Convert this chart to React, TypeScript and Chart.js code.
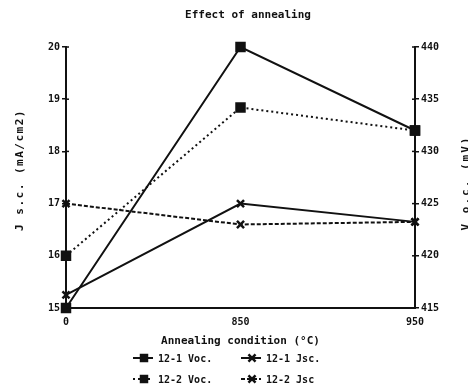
import React, { useEffect, useRef } from 'react';
import { Chart, registerables } from 'chart.js';
Chart.register(...registerables);

const annealLabels = ['0', '850', '950'];
const voc121 = [415, 440, 432];
const jsc121 = [15.25, 17.0, 16.65];
const voc122 = [420, 434.2, 432];
const jsc122 = [17.0, 16.6, 16.65];
const seriesNames = ['12-1 Voc.', '12-1 Jsc.', '12-2 Voc.', '12-2 Jsc'];
const chartTitle = 'Effect of annealing';
const xTitle = 'Annealing condition (\u00B0C)';
const leftTitle = 'J s.c. (mA/cm2)';
const rightTitle = 'V o.c. (mV)';

const INK = '#111111';
const FONT = "'DejaVu Sans Mono', 'Liberation Mono', monospace";

function drawMarker(ctx: CanvasRenderingContext2D, style: string, x: number, y: number, r: number) {
  ctx.beginPath();
  if (style === 'rect') {
    const s = r * Math.SQRT1_2;
    ctx.fillRect(x - s, y - s, 2 * s, 2 * s);
  } else {
    const s = r * Math.SQRT1_2;
    ctx.moveTo(x - s, y - s); ctx.lineTo(x + s, y + s);
    ctx.moveTo(x - s, y + s); ctx.lineTo(x + s, y - s);
    ctx.stroke();
  }
}

function rotatedText(ctx: CanvasRenderingContext2D, text: string, x: number, y: number, spacing: string) {
  ctx.save();
  ctx.translate(x, y);
  ctx.rotate(-Math.PI / 2);
  ctx.textAlign = 'center';
  ctx.textBaseline = 'middle';
  (ctx as any).letterSpacing = spacing;
  ctx.font = `bold 11px ${FONT}`;
  ctx.fillText(text, 0, 0);
  ctx.restore();
}

const extras = {
  id: 'extras',
  afterDraw(chart: any) {
    const ctx: CanvasRenderingContext2D = chart.ctx;
    ctx.save();
    ctx.strokeStyle = INK;
    ctx.fillStyle = INK;
    ctx.lineWidth = 1.5;
    const yl = chart.scales.y;
    const yr = chart.scales.y2;
    yl.ticks.forEach((t: any) => {
      const py = yl.getPixelForValue(t.value);
      ctx.beginPath(); ctx.moveTo(yl.right, py); ctx.lineTo(yl.right + 3, py); ctx.stroke();
    });
    yr.ticks.forEach((t: any) => {
      const py = yr.getPixelForValue(t.value);
      ctx.beginPath(); ctx.moveTo(yr.left - 3, py); ctx.lineTo(yr.left, py); ctx.stroke();
    });
    // title
    ctx.font = `bold 11px ${FONT}`;
    ctx.textAlign = 'center';
    ctx.textBaseline = 'middle';
    ctx.fillText(chartTitle, 248, 15);
    // legend
    const slots = [[133, 358], [241, 358], [133, 379], [241, 379]];
    ctx.font = `bold 10px ${FONT}`;
    ctx.textAlign = 'left';
    chart.data.datasets.forEach((ds: any, i: number) => {
      const [x, y] = slots[i];
      ctx.save();
      ctx.lineWidth = 2;
      ctx.setLineDash(ds.borderDash || []);
      ctx.beginPath(); ctx.moveTo(x, y); ctx.lineTo(x + 20, y); ctx.stroke();
      ctx.restore();
      ctx.lineWidth = 2.5;
      drawMarker(ctx, ds.pointStyle, x + 11, y, ds.pointRadius);
      ctx.fillText(ds.label, x + 25, y + 1);
    });
    // axis titles
    rotatedText(ctx, leftTitle, 20, 170, '1.5px');
    rotatedText(ctx, rightTitle, 466, 183, '2px');
    ctx.restore();
  },
};

export default function App() {
  const ref = useRef<HTMLCanvasElement | null>(null);
  useEffect(() => {
    if (!ref.current) return;
    Chart.defaults.font.family = FONT;
    Chart.defaults.font.weight = 'bold' as any;
    Chart.defaults.color = INK;
    const chart = new Chart(ref.current, {
      type: 'line',
      data: {
        labels: annealLabels,
        datasets: [
          { label: seriesNames[0], data: voc121, yAxisID: 'y2', borderColor: INK, backgroundColor: INK, borderWidth: 2, pointStyle: 'rect', pointRadius: 6, pointBackgroundColor: INK, pointBorderColor: INK, clip: false as any },
          { label: seriesNames[1], data: jsc121, yAxisID: 'y', borderColor: INK, backgroundColor: INK, borderWidth: 2, pointStyle: 'crossRot', pointRadius: 5, pointBorderWidth: 2.5, pointBorderColor: INK, clip: false as any },
          { label: seriesNames[2], data: voc122, yAxisID: 'y2', borderColor: INK, backgroundColor: INK, borderWidth: 2, borderDash: [2, 3], pointStyle: 'rect', pointRadius: 6, pointBackgroundColor: INK, pointBorderColor: INK, clip: false as any },
          { label: seriesNames[3], data: jsc122, yAxisID: 'y', borderColor: INK, backgroundColor: INK, borderWidth: 2, borderDash: [4, 2], pointStyle: 'crossRot', pointRadius: 5, pointBorderWidth: 2.5, pointBorderColor: INK, clip: false as any },
        ],
      },
      options: {
        responsive: false,
        animation: false,
        layout: { padding: { top: 47, left: 0, right: 0, bottom: 0 } },
        plugins: {
          legend: { display: false },
          tooltip: { enabled: false },
          title: { display: false },
        },
        scales: {
          x: {
            type: 'category',
            offset: false,
            grid: { display: false, drawTicks: false },
            border: { display: true, color: INK, width: 2 },
            ticks: { padding: 8, font: { size: 10, weight: 'bold' }, color: INK, maxRotation: 0 },
            title: { display: true, text: xTitle, color: INK, font: { size: 11, weight: 'bold' }, padding: { top: 0, bottom: 44 } },
            afterFit: (s: any) => { s.height = 84; },
          },
          y: {
            position: 'left',
            min: 15,
            max: 20,
            ticks: { stepSize: 1, padding: 2, font: { size: 10, weight: 'bold' }, color: INK },
            grid: { display: true, drawOnChartArea: false, tickLength: 4, color: INK, lineWidth: 1.5 },
            border: { display: true, color: INK, width: 2 },
            afterFit: (s: any) => { s.width = 66; },
          },
          y2: {
            position: 'right',
            min: 415,
            max: 440,
            ticks: { stepSize: 5, padding: 2, font: { size: 10, weight: 'bold' }, color: INK },
            grid: { display: true, drawOnChartArea: false, tickLength: 4, color: INK, lineWidth: 1.5 },
            border: { display: true, color: INK, width: 2 },
            afterFit: (s: any) => { s.width = 53; },
          },
        },
      },
      plugins: [extras],
    });
    return () => chart.destroy();
  }, []);
  return (
    <div style={{ position: 'fixed', left: 0, top: 0, width: 468, height: 392, background: '#fff' }}>
      <canvas ref={ref} width={468} height={392} style={{ display: 'block' }} />
    </div>
  );
}
